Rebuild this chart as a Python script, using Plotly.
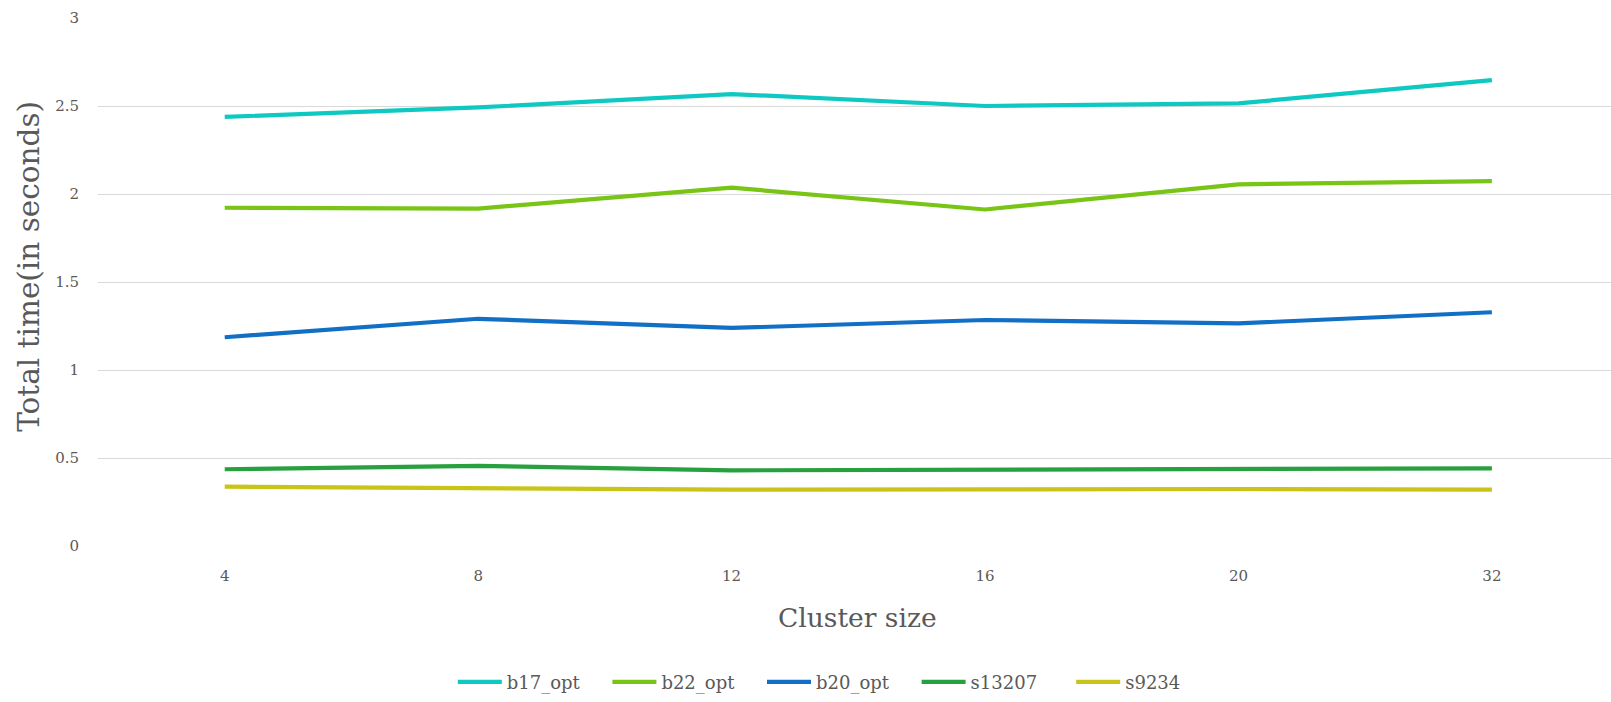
import plotly.graph_objects as go

# Cluster sizes on the horizontal (category) axis
cluster_sizes = ["4", "8", "12", "16", "20", "32"]

# Total run time in seconds for each circuit
b17_opt = [2.438, 2.492, 2.568, 2.500, 2.515, 2.647]
b22_opt = [1.922, 1.917, 2.036, 1.912, 2.055, 2.073]
b20_opt = [1.186, 1.291, 1.239, 1.284, 1.265, 1.328]
s13207 = [0.436, 0.455, 0.430, 0.434, 0.441, 0.441]
s9234 = [0.337, 0.330, 0.320, 0.322, 0.324, 0.320]

series = [
    ("b17_opt", b17_opt, "#0ec9c2"),
    ("b22_opt", b22_opt, "#78c516"),
    ("b20_opt", b20_opt, "#1170c5"),
    ("s13207", s13207, "#27a03d"),
    ("s9234", s9234, "#c9c418"),
]

FONT = "DejaVu Serif, Liberation Serif, serif"
TEXT = "#595959"

fig = go.Figure()
for name, vals, color in series:
    fig.add_trace(go.Scatter(
        x=cluster_sizes, y=vals, name=name, mode="lines",
        line=dict(color=color, width=4.2),
    ))

fig.update_layout(
    width=1611, height=702,
    margin=dict(l=98, r=0, t=18, b=155.5),
    paper_bgcolor="white", plot_bgcolor="white",
    font=dict(family=FONT, color=TEXT),
    showlegend=True,
    legend=dict(
        orientation="h", x=0.2345, xanchor="left", y=-0.258, yanchor="middle",
        font=dict(size=18, color=TEXT, family=FONT),
        itemwidth=44, entrywidth=95.6, entrywidthmode="pixels",
    ),
    xaxis=dict(
        type="category", range=[-0.5, 5.47],
        showgrid=False, zeroline=False, showline=False,
        tickfont=dict(size=15, color=TEXT), ticks="", ticklabelstandoff=19,
    ),
    yaxis=dict(
        range=[0, 3], dtick=0.5,
        showgrid=True, gridcolor="#d9d9d9", gridwidth=1,
        zeroline=False, showline=False,
        tickfont=dict(size=15, color=TEXT), ticks="", ticklabelstandoff=18,
    ),
    annotations=[
        dict(text="Cluster size", xref="paper", yref="paper", x=0.502, y=-0.1353,
             xanchor="center", yanchor="middle", showarrow=False,
             font=dict(size=26.5, color=TEXT, family=FONT)),
        dict(text="Total time(in seconds)", xref="paper", yref="paper", x=-0.0452, y=0.530,
             xanchor="center", yanchor="middle", showarrow=False, textangle=-90,
             font=dict(size=29.5, color=TEXT, family=FONT)),
    ],
)

fig.write_html("out.html")
